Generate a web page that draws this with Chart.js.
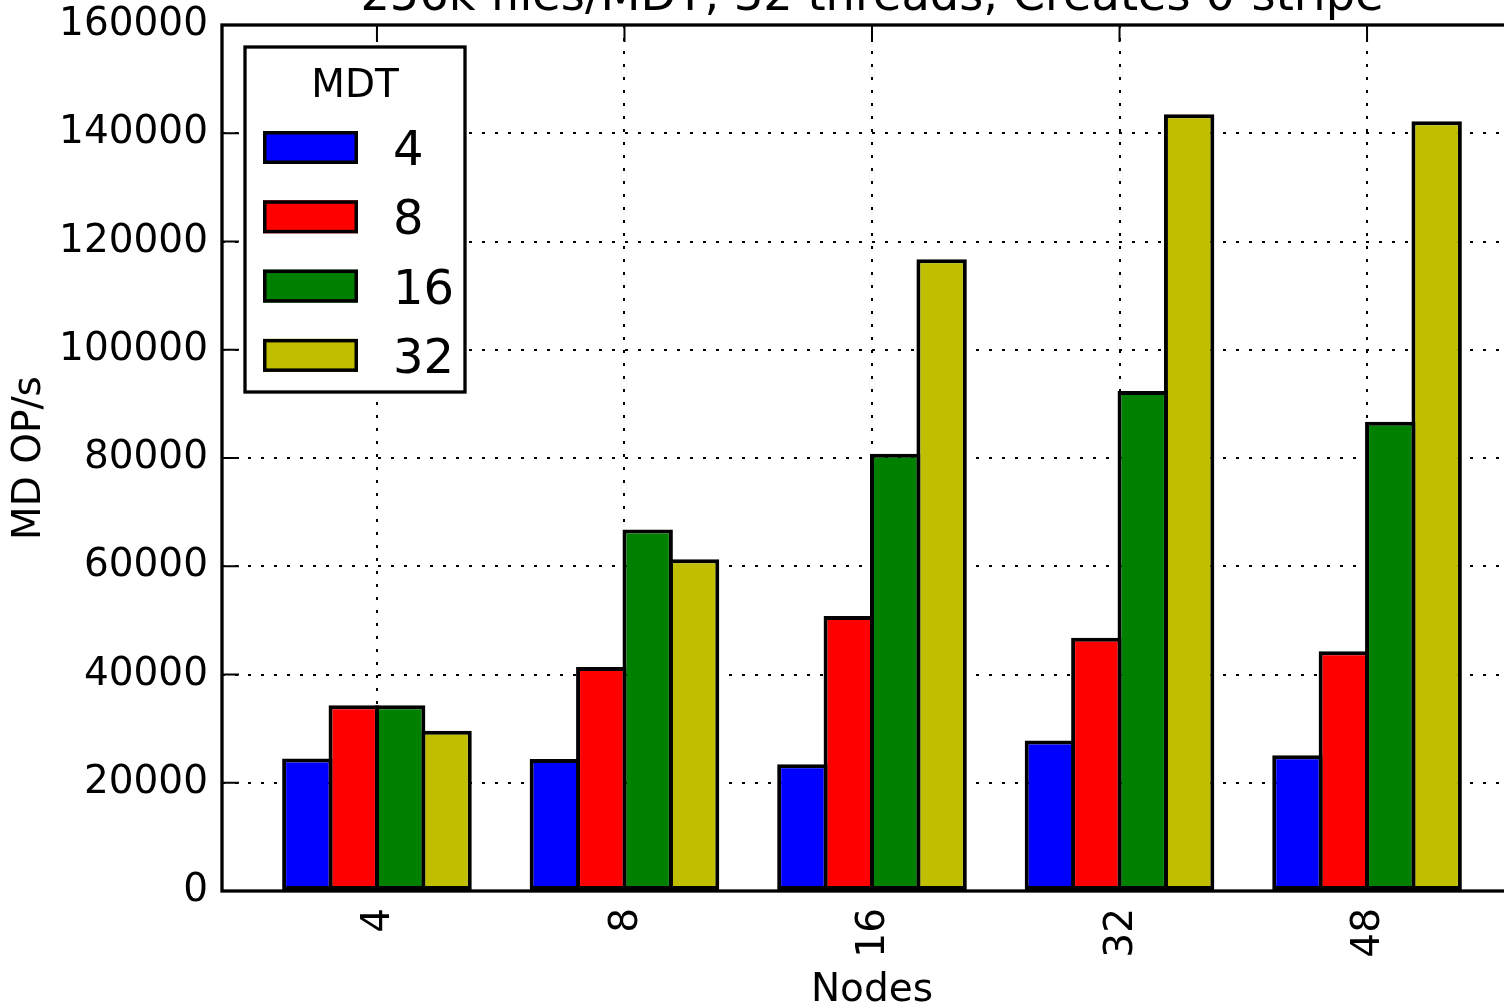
<!DOCTYPE html>
<html>
<head>
<meta charset="utf-8">
<script src="https://cdn.jsdelivr.net/npm/chart.js@4.4.1/dist/chart.umd.min.js"></script>
<style>
  html, body { margin: 0; padding: 0; background: #fff; overflow: hidden; }
  #wrap { position: absolute; left: 0; top: -40px; }
</style>
</head>
<body>
<div id="wrap"><canvas id="mdChart" width="1540" height="1060"></canvas></div>
<script>
const nodes = ['4', '8', '16', '32', '48'];
const mdtCounts = ['4', '8', '16', '32'];
const mdt4 = [24500, 24400, 23400, 27800, 25100];
const mdt8 = [34300, 41400, 50800, 46800, 44300];
const mdt16 = [34300, 66800, 80800, 92400, 86700];
const mdt32 = [29600, 61300, 116700, 143500, 142200];
const yTicks = [0, 20000, 40000, 60000, 80000, 100000, 120000, 140000, 160000];
const chartTitle = '256k files/MDT, 32 threads, Creates 0-stripe';

const colors = ['#0000ff', '#ff0000', '#008000', '#bfbf00'];
const series = [mdt4, mdt8, mdt16, mdt32];

Chart.defaults.font.family = 'DejaVu Sans';
Chart.defaults.color = '#000';

// title over the plot, inward tick marks, axes frame and boxed legend (matplotlib look)
const frame = {
  id: 'frame',
  afterDraw(chart) {
    const { ctx, chartArea: a, scales: { x, y } } = chart;
    ctx.save();
    ctx.fillStyle = '#000';
    ctx.textAlign = 'center';
    ctx.textBaseline = 'alphabetic';
    ctx.font = '46.3px "DejaVu Sans"';
    ctx.fillText(chartTitle, (a.left + a.right) / 2, a.top - 15);

    ctx.strokeStyle = '#000';
    ctx.lineWidth = 2;
    ctx.beginPath();
    x.ticks.forEach(t => {
      const px = x.getPixelForValue(t.value);
      ctx.moveTo(px, a.bottom); ctx.lineTo(px, a.bottom - 17);
      ctx.moveTo(px, a.top); ctx.lineTo(px, a.top + 17);
    });
    y.ticks.forEach(t => {
      const py = y.getPixelForValue(t.value);
      ctx.moveTo(a.left, py); ctx.lineTo(a.left + 17, py);
      ctx.moveTo(a.right, py); ctx.lineTo(a.right - 17, py);
    });
    ctx.stroke();
    ctx.lineWidth = 3.3;
    ctx.strokeRect(a.left, a.top, a.right - a.left, a.bottom - a.top);

    // legend
    const bx = a.left + 23, by = a.top + 22, bw = 220, bh = 345;
    ctx.fillStyle = '#fff';
    ctx.fillRect(bx, by, bw, bh);
    ctx.strokeRect(bx, by, bw, bh);
    ctx.fillStyle = '#000';
    ctx.font = '39px "DejaVu Sans"';
    ctx.fillText('MDT', bx + bw / 2, by + 50);
    ctx.textAlign = 'left';
    ctx.font = '48px "DejaVu Sans"';
    ctx.lineWidth = 3.5;
    chart.data.datasets.forEach((ds, i) => {
      const sy = by + 84 + i * 69.3;
      ctx.fillStyle = ds.backgroundColor;
      ctx.fillRect(bx + 18, sy, 95, 33);
      ctx.strokeRect(bx + 19.75, sy + 1.75, 91.5, 29.5);
      ctx.fillStyle = '#000';
      ctx.fillText(ds.label, bx + 148, sy + 16.5 + 17.5);
    });
    ctx.restore();
  }
};

const gridStyle = { color: '#000', lineWidth: 2, drawTicks: false, offset: false };

new Chart(document.getElementById('mdChart').getContext('2d'), {
  type: 'bar',
  data: {
    datasets: series.map((vals, i) => ({
      label: mdtCounts[i],
      data: vals.map((v, j) => ({ x: j, y: v })),
      backgroundColor: colors[i],
      borderColor: '#000',
      borderWidth: 4,
      inflateAmount: 0,
      borderSkipped: false,
      categoryPercentage: 0.75,
      barPercentage: 1.086
    }))
  },
  options: {
    responsive: false,
    animation: false,
    layout: { padding: { left: 0, right: 18, top: 65, bottom: 0 } },
    plugins: {
      legend: { display: false },
      tooltip: { enabled: false },
      title: { display: false }
    },
    scales: {
      x: {
        type: 'linear',
        offset: false,
        min: -0.626,
        max: 4.626,
        z: 1,
        afterBuildTicks: s => { s.ticks = nodes.map((n, i) => ({ value: i })); },
        afterFit: s => { s.height = 129; },
        grid: gridStyle,
        border: { display: false, dash: [3, 10] },
        ticks: {
          callback: v => nodes[v],
          minRotation: 90,
          maxRotation: 90,
          autoSkip: false,
          padding: 17,
          labelOffset: 2,
          font: { size: 39 }
        },
        title: { display: true, text: 'Nodes', font: { size: 39 }, padding: { top: 0, bottom: 6 } }
      },
      y: {
        min: 0,
        max: 160000,
        z: 1,
        afterBuildTicks: s => { s.ticks = yTicks.map(v => ({ value: v })); },
        afterFit: s => { s.width = 222; },
        grid: gridStyle,
        border: { display: false, dash: [3, 10] },
        ticks: { callback: v => String(v), padding: 14, font: { size: 39 } },
        title: { display: true, text: 'MD OP/s', font: { size: 39 }, padding: { top: 6, bottom: 0 } }
      }
    }
  },
  plugins: [frame]
});
</script>
</body>
</html>
